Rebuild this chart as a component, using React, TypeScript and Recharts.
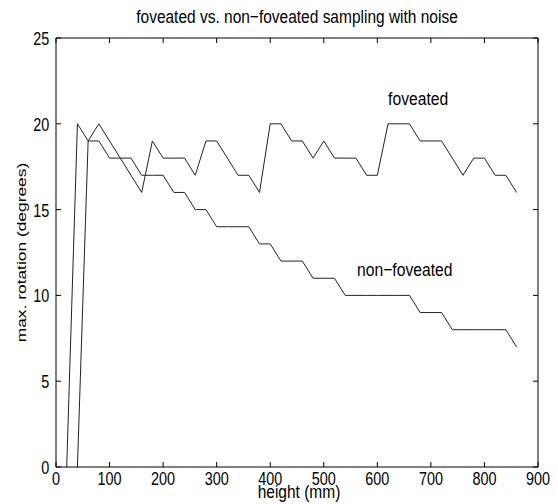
import React from 'react';
import { LineChart, Line, XAxis, YAxis, ReferenceDot } from 'recharts';

const heights = [20, 40, 60, 80, 100, 120, 140, 160, 180, 200, 220, 240, 260, 280, 300, 320, 340, 360, 380, 400, 420, 440, 460, 480, 500, 520, 540, 560, 580, 600, 620, 640, 660, 680, 700, 720, 740, 760, 780, 800, 820, 840, 860];
const foveated = [0, 20, 19, 20, 19, 18, 17, 16, 19, 18, 18, 18, 17, 19, 19, 18, 17, 17, 16, 20, 20, 19, 19, 18, 19, 18, 18, 18, 17, 17, 20, 20, 20, 19, 19, 19, 18, 17, 18, 18, 17, 17, 16];
const nonFoveated = [null, 0, 19, 19, 18, 18, 18, 17, 17, 17, 16, 16, 15, 15, 14, 14, 14, 14, 13, 13, 12, 12, 12, 11, 11, 11, 10, 10, 10, 10, 10, 10, 10, 9, 9, 9, 8, 8, 8, 8, 8, 8, 7];

const xTicks = [0, 100, 200, 300, 400, 500, 600, 700, 800, 900];
const yTicks = [0, 5, 10, 15, 20, 25];

const title = 'foveated vs. non\u2212foveated sampling with noise';
const xLabel = 'height (mm)';
const yLabel = 'max. rotation (degrees)';

const annotations = [
  { text: 'foveated', x: 620, y: 21.1 },
  { text: 'non\u2212foveated', x: 562, y: 11.13 },
];

const data = heights.map((h, i) => ({ x: h, fov: foveated[i], non: nonFoveated[i] }));

const FONT = "'Liberation Sans', Arial, Helvetica, sans-serif";

const SText = ({ x, y, anchor = 'start', size = 15.5, sy = 1.18, children }: any) => (
  <text
    transform={`translate(${x},${y}) scale(1,${sy})`}
    textAnchor={anchor}
    fontSize={size}
    fontFamily={FONT}
    fill="#000"
  >
    {children}
  </text>
);

const BottomTick = (props: any) => {
  const { x, y, payload } = props;
  return (
    <g>
      <line x1={x} x2={x} y1={y} y2={y - 5} stroke="#000" strokeWidth={1} />
      <SText x={x} y={y + 18} anchor="middle" size={14.4} sy={1.22}>{payload.value}</SText>
    </g>
  );
};

const TopTick = (props: any) => {
  const { x, y } = props;
  return <line x1={x} x2={x} y1={y} y2={y + 5} stroke="#000" strokeWidth={1} />;
};

const LeftTick = (props: any) => {
  const { x, y, payload } = props;
  return (
    <g>
      <line x1={x} x2={x + 5} y1={y} y2={y} stroke="#000" strokeWidth={1} />
      <SText x={x - 6.7} y={y + 7} anchor="end" size={14.4} sy={1.26}>{payload.value}</SText>
    </g>
  );
};

const RightTick = (props: any) => {
  const { x, y } = props;
  return <line x1={x} x2={x - 5} y1={y} y2={y} stroke="#000" strokeWidth={1} />;
};

const TitleLabel = (props: any) => {
  const vb = props.viewBox;
  return <SText x={vb.x + vb.width / 2} y={vb.y + vb.height - 15} anchor="middle" size={15.5} sy={1.18}>{title}</SText>;
};

const XLabel = (props: any) => {
  const vb = props.viewBox;
  return <SText x={vb.x + vb.width / 2 + 2} y={vb.y + 31} anchor="middle" size={15.5} sy={1.16}>{xLabel}</SText>;
};

const YLabel = (props: any) => {
  const vb = props.viewBox;
  const cx = vb.x + vb.width - 30.3;
  const cy = vb.y + vb.height / 2;
  return (
    <text
      transform={`translate(${cx},${cy}) rotate(-90) scale(1.39,1)`}
      textAnchor="middle"
      fontSize={12.5}
      fontFamily={FONT}
      fill="#000"
    >
      {yLabel}
    </text>
  );
};

const makeAnnotation = (text: string) => (props: any) => (
  <SText x={props.cx} y={props.cy} anchor="start" size={15.7} sy={1.18}>{text}</SText>
);

export default function App() {
  return (
    <div style={{ position: 'absolute', left: 0, top: 0, width: 558, height: 504, background: '#fff' }}>
      <LineChart width={558} height={504} data={data} margin={{ top: 37, right: 19, bottom: 36, left: 55 }}>
        <XAxis
          dataKey="x"
          type="number"
          domain={[0, 900]}
          ticks={xTicks}
          interval={0}
          height={1}
          tickSize={0}
          tickMargin={0}
          tickLine={false}
          axisLine={{ stroke: '#000', strokeWidth: 1 }}
          tick={<BottomTick />}
          allowDataOverflow
          label={{ content: <XLabel /> } as any}
        />
        <XAxis
          xAxisId="top"
          orientation="top"
          dataKey="x"
          type="number"
          domain={[0, 900]}
          ticks={xTicks}
          interval={0}
          height={1}
          tickSize={0}
          tickMargin={0}
          tickLine={false}
          axisLine={{ stroke: '#000', strokeWidth: 1 }}
          tick={<TopTick />}
          allowDataOverflow
          label={{ content: <TitleLabel /> } as any}
        />
        <YAxis
          type="number"
          domain={[0, 25]}
          ticks={yTicks}
          interval={0}
          width={1}
          tickSize={0}
          tickMargin={0}
          tickLine={false}
          axisLine={{ stroke: '#000', strokeWidth: 1 }}
          tick={<LeftTick />}
          allowDataOverflow
          label={{ content: <YLabel /> } as any}
        />
        <YAxis
          yAxisId="right"
          orientation="right"
          type="number"
          domain={[0, 25]}
          ticks={yTicks}
          interval={0}
          width={1}
          tickSize={0}
          tickMargin={0}
          tickLine={false}
          axisLine={{ stroke: '#000', strokeWidth: 1 }}
          tick={<RightTick />}
          allowDataOverflow
        />
        <Line dataKey="fov" stroke="#222" strokeWidth={1} dot={false} isAnimationActive={false} connectNulls={false} />
        <Line dataKey="non" stroke="#222" strokeWidth={1} dot={false} isAnimationActive={false} connectNulls={false} />
        {annotations.map((a) => (
          <ReferenceDot key={a.text} x={a.x} y={a.y} r={0} fill="none" stroke="none" shape={makeAnnotation(a.text)} />
        ))}
      </LineChart>
    </div>
  );
}
